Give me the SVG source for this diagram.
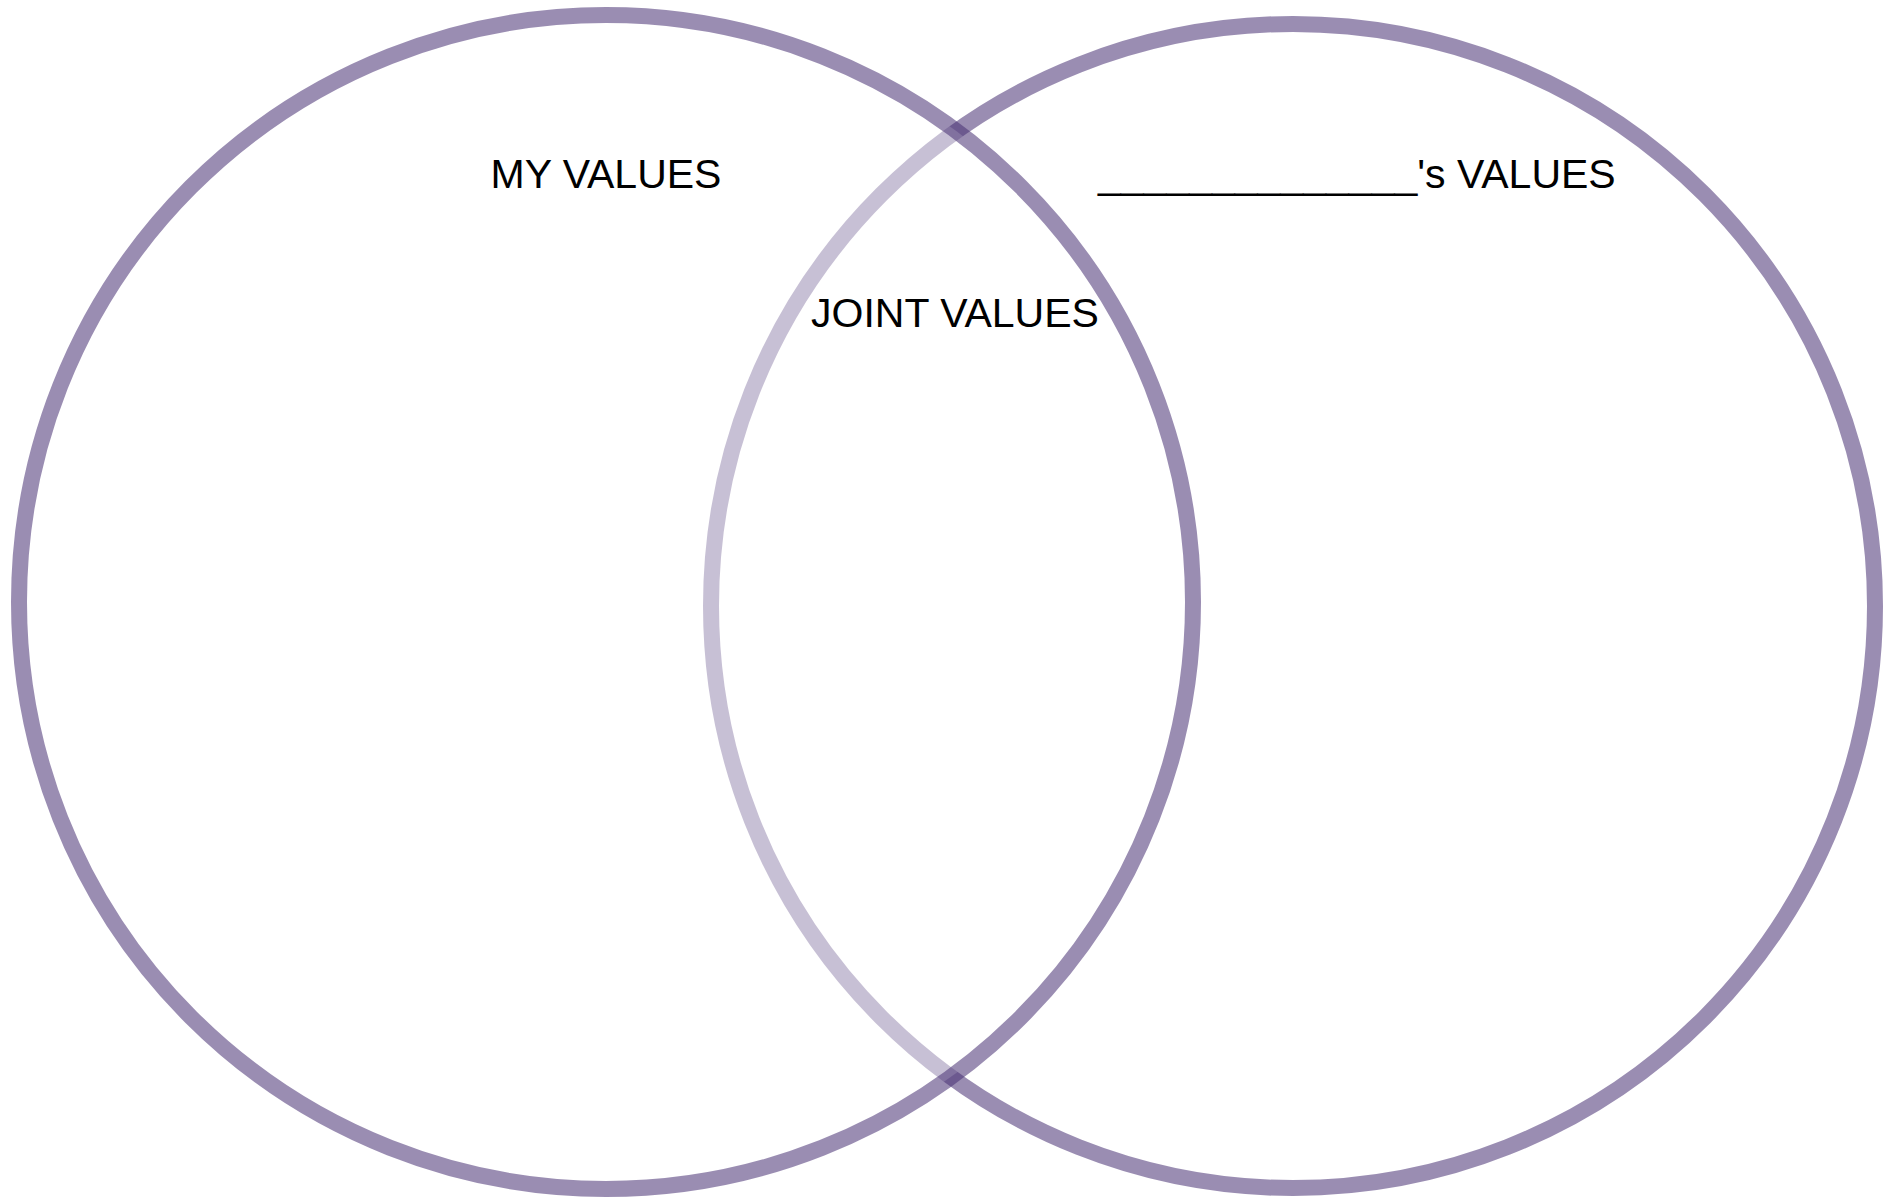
<svg xmlns="http://www.w3.org/2000/svg" width="1897" height="1197" viewBox="0 0 1897 1197">
  <style>
    .ring { stroke: #473073; stroke-opacity: 0.55; stroke-width: 16; }
    .lbl { font-family: "Liberation Sans", Arial, sans-serif; font-size: 41px; fill: #000000; }
  </style>
  <rect x="0" y="0" width="1897" height="1197" fill="#ffffff"/>
  <g id="others-values">
    <circle class="ring" cx="1293" cy="606" r="582" fill="none"/>
  </g>
  <g id="my-values">
    <circle class="ring" cx="606" cy="602" r="587" fill="#ffffff" fill-opacity="0.45"/>
  </g>
  <g id="connectors"></g>
  <g id="labels">
    <text class="lbl" x="606" y="188" text-anchor="middle">MY VALUES</text>
    <text class="lbl" x="955" y="327" text-anchor="middle">JOINT VALUES</text>
    <text class="lbl" x="1098" y="188">______________'s VALUES</text>
  </g>
</svg>
